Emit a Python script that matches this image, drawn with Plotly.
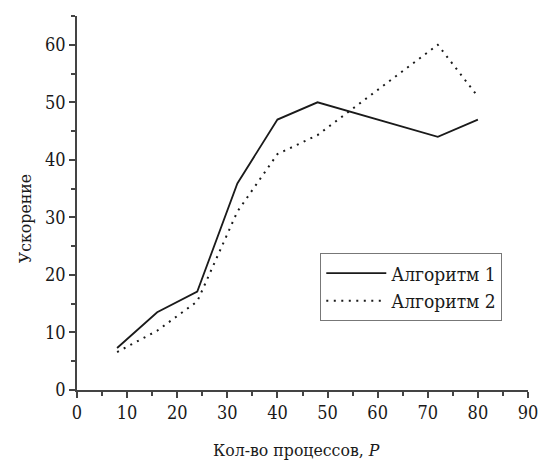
import plotly.graph_objects as go

# Data
proc_1 = [8, 16, 24, 32, 40, 48, 72, 80]
speedup_1 = [7.3, 13.5, 17.1, 35.9, 47.0, 50.0, 44.0, 47.0]

proc_2 = [8, 16, 24, 32, 40, 48, 72, 80]
speedup_2 = [6.6, 10.3, 15.4, 31.0, 41.0, 44.3, 60.0, 51.0]

names = ["Алгоритм 1", "Алгоритм 2"]
x_title = "Кол-во процессов, <i>P</i>"
y_title = "Ускорение"

FONT = "DejaVu Serif Condensed, DejaVu Serif, serif"
TXT = "#1a1a1a"

fig = go.Figure()
fig.add_trace(go.Scatter(x=proc_1, y=speedup_1, mode="lines", name=names[0],
                         line=dict(color="#1a1a1a", width=1.8)))
fig.add_trace(go.Scatter(x=proc_2, y=speedup_2, mode="lines", name=names[1],
                         line=dict(color="#1a1a1a", width=2, dash="2px,5.5px")))

axis_common = dict(
    showgrid=False, zeroline=False, showline=True, linecolor="#444", linewidth=1.5,
    ticks="outside", ticklen=6, tickwidth=1.5, tickcolor="#444",
    tickfont=dict(family=FONT, size=18, color=TXT),
)
fig.update_xaxes(range=[0, 90], dtick=10, tick0=0,
                 minor=dict(dtick=5, ticks="outside", ticklen=4, tickwidth=1.5, tickcolor="#444"),
                 **axis_common)
fig.update_yaxes(range=[0, 65], dtick=10, tick0=0,
                 minor=dict(dtick=5, ticks="outside", ticklen=4, tickwidth=1.5, tickcolor="#444"),
                 **axis_common)

fig.add_annotation(text=x_title, xref="paper", yref="paper", x=0.487, y=-0.16,
                   xanchor="center", yanchor="middle", showarrow=False,
                   font=dict(family=FONT, size=17.5, color=TXT))
fig.add_annotation(text=y_title, xref="paper", yref="paper", x=-0.115, y=0.457,
                   xanchor="center", yanchor="middle", showarrow=False, textangle=-90,
                   font=dict(family=FONT, size=17.5, color=TXT))

fig.update_layout(
    width=550, height=462,
    margin=dict(l=77, r=13, t=16, b=72),
    paper_bgcolor="white", plot_bgcolor="white",
    font=dict(family=FONT, size=17, color=TXT),
    showlegend=True,
    legend=dict(x=0.539, y=0.366, xanchor="left", yanchor="top",
                bordercolor="#777", borderwidth=1.2, bgcolor="white",
                font=dict(family=FONT, size=19, color=TXT),
                itemwidth=60),
)

fig.write_html("out.html", config={"displayModeBar": False},
               post_script="document.body.style.margin='0px';document.body.style.overflow='hidden';")
